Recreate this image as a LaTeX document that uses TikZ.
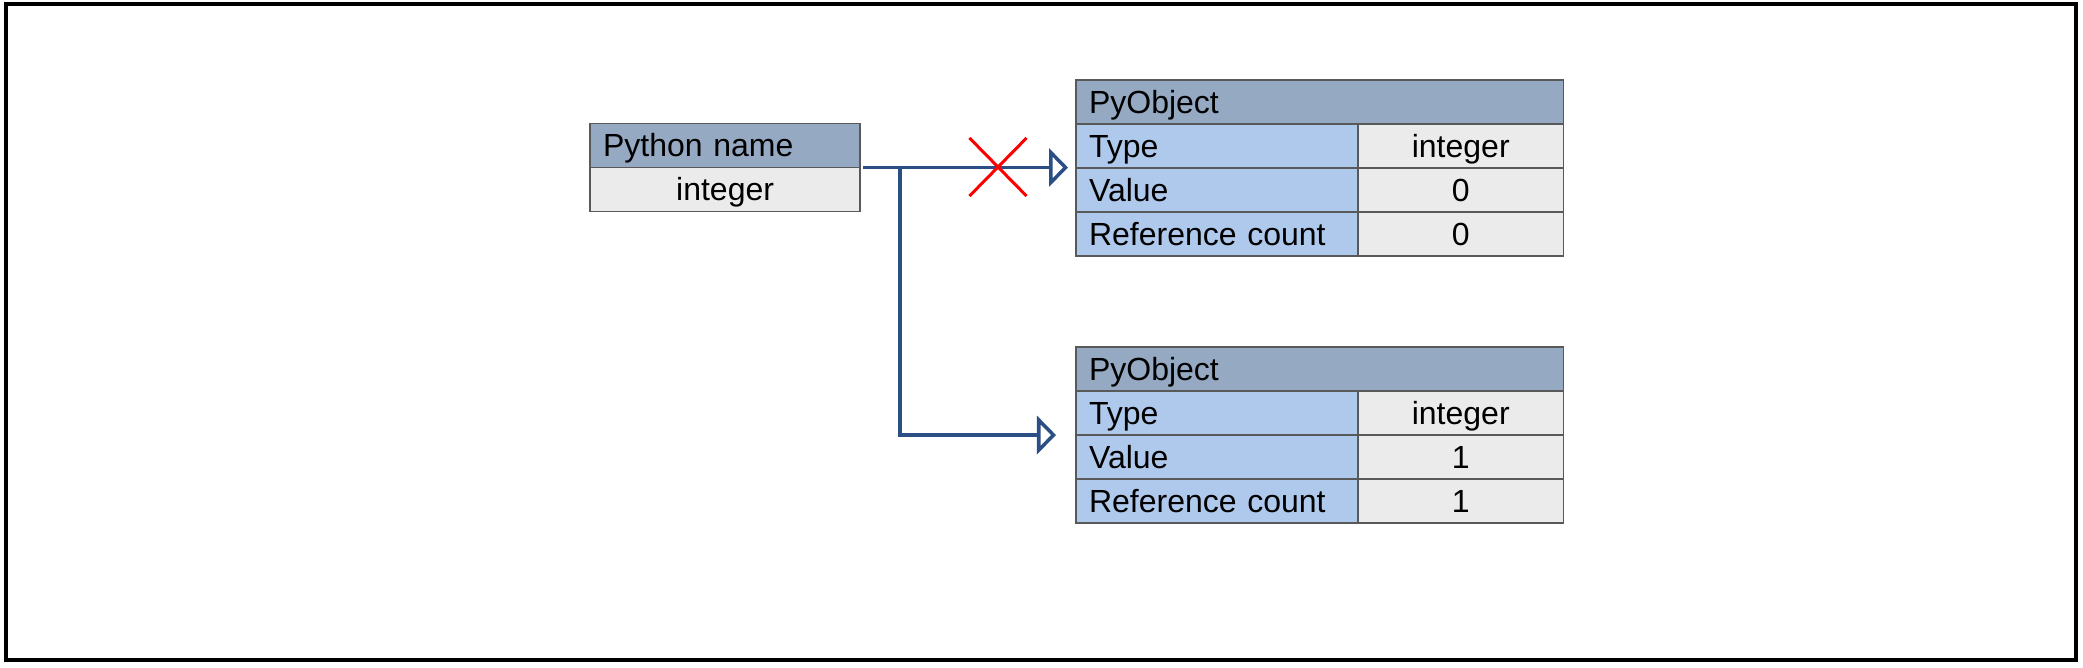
\documentclass[tikz,border=0pt]{standalone}
\usepackage{fontspec}
\setmainfont{Liberation Sans}
\usetikzlibrary{arrows.meta,shapes.misc}

\definecolor{headblue}{HTML}{95A9C3}
\definecolor{fieldblue}{HTML}{AFC9EC}
\definecolor{cellgray}{HTML}{EBEBEB}
\definecolor{linkblue}{HTML}{2B4F84}

\newcommand{\cellstrut}{\rule[-1.9pt]{0pt}{10.2pt}}

\tikzset{
  cell/.style={draw=black!65, line width=0.45pt, anchor=north west, outer sep=0pt,
    minimum height=0.44cm, inner xsep=0.13cm, inner ysep=0pt,
    font=\fontsize{9.1}{11}\selectfont, execute at begin node=\cellstrut},
  headcell/.style={cell, fill=headblue, text width=#1, align=left},
  fieldcell/.style={cell, fill=fieldblue, text width=2.56cm, align=left},
  valcell/.style={cell, fill=cellgray, text width=#1, align=center},
  valcell/.default=1.79cm,
  link/.style={draw=linkblue, line width=0.035cm,
    -{Triangle[open, length=0.19cm, width=0.38cm]}}
}

\begin{document}
\begin{tikzpicture}[x=0.01cm, y=-0.01cm]
  \useasboundingbox (0,0) rectangle (2083,667);

  % frame
  \draw[line width=0.04cm] (6,4) rectangle (2076,660);

  % python name
  \node[headcell=2.44cm] (name-head) at (590,123.5) {Python name};
  \node[valcell=2.44cm] (name-val) at (name-head.south west) {integer};

  % the two objects
  \foreach \obj/\ytop/\cnt in {old/80/0, new/347/1} {
    \node[headcell=4.61cm] (\obj-head) at (1076,\ytop) {PyObject};
    \node[fieldcell] (\obj-type) at (\obj-head.south west) {Type};
    \node[fieldcell] (\obj-value) at (\obj-type.south west) {Value};
    \node[fieldcell] (\obj-refs) at (\obj-value.south west) {Reference count};
    \node[valcell] (\obj-typev) at (\obj-type.north east) {integer};
    \node[valcell] (\obj-valuev) at (\obj-value.north east) {\cnt};
    \node[valcell] (\obj-refsv) at (\obj-refs.north east) {\cnt};
  }

  % links
  \coordinate (split) at ([xshift=0.4cm]name-head.south east);
  \draw[link, shorten <=0.03cm, shorten >=0.08cm] (name-head.south east) -- (name-head.south east -| old-type.west);
  \draw[link, shorten >=0.2cm] (split) |- (new-type.south west);

  % old link is cut
  \node[cross out, draw=red, line width=0.03cm, minimum width=0.54cm,
    minimum height=0.55cm, inner sep=0pt] (cut) at (998,167) {};
\end{tikzpicture}
\end{document}
